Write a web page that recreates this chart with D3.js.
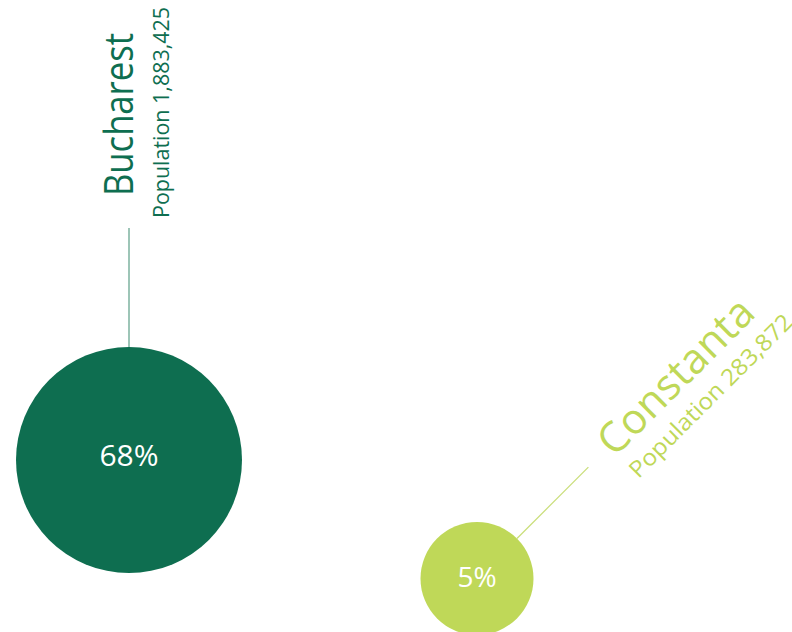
<!DOCTYPE html>
<html><head><meta charset="utf-8">
<script src="https://cdn.jsdelivr.net/npm/d3@7"></script>
<style>html,body{margin:0;padding:0;background:#fff;overflow:hidden}</style>
</head><body><svg id="c" width="792" height="632"></svg>
<script>
const cities = ["Bucharest", "Constanta"];
const populations = [1883425, 283872];
const shares = [68, 5];
const palette = ["#0e6e50", "#bfd858"];
const leaderPalette = ["#5c9e87", "#c9de78"];

const svg = d3.select("#c");
const font = "'Open Sans', 'Noto Sans', sans-serif";
const x = d3.scalePoint().domain(cities).range([129, 477]);
const y = d3.scaleLinear().domain([5, 68]).range([578.5, 460]);
const r = d3.scaleLinear().domain([5, 68]).range([56.5, 113]);
const color = d3.scaleOrdinal(cities, palette);
const leadColor = d3.scaleOrdinal(cities, leaderPalette);
const fmt = d3.format(",");

const layout = [
  {angle: -90, lead: 119, nameDu: 32, nameDv: 4, popDu: 10, popDv: 40, nameLen: 163, popLen: 211, nameSize: 40, popSize: 21, adj: "spacingAndGlyphs", pctSize: 30, pctDy: "0.2em"},
  {angle: -45, lead: 101, nameDu: 25, nameDv: 12, popDu: 27, popDv: 44, nameLen: 202, popLen: 220, nameSize: 42, popSize: 23, adj: "spacing", pctSize: 28, pctDy: "0.3em"}
];

const data = cities.map((c, i) => ({city: c, pop: populations[i], share: shares[i], L: layout[i]}));

data.forEach(d => {
  const cx = x(d.city), cy = y(d.share), rad = r(d.share), L = d.L;
  svg.append("circle").attr("cx", cx).attr("cy", cy).attr("r", rad).attr("fill", color(d.city));
  svg.append("text").attr("x", cx).attr("y", cy).attr("dy", L.pctDy)
    .attr("text-anchor", "middle").attr("fill", "#ffffff")
    .style("font-family", font).style("font-size", L.pctSize + "px")
    .text(d.share + "%");
  const g = svg.append("g").attr("transform", `translate(${cx},${cy}) rotate(${L.angle})`);
  g.append("line").attr("x1", rad).attr("y1", 0).attr("x2", rad + L.lead).attr("y2", 0)
    .attr("stroke", leadColor(d.city)).attr("stroke-width", 1.2);
  g.append("text").attr("x", rad + L.lead + L.nameDu).attr("y", L.nameDv)
    .attr("fill", color(d.city)).style("font-family", font).style("font-size", L.nameSize + "px")
    .attr("textLength", L.nameLen).attr("lengthAdjust", L.adj)
    .text(d.city);
  g.append("text").attr("x", rad + L.lead + L.popDu).attr("y", L.popDv)
    .attr("fill", color(d.city)).style("font-family", font).style("font-size", L.popSize + "px")
    .attr("textLength", L.popLen).attr("lengthAdjust", "spacingAndGlyphs")
    .text("Population " + fmt(d.pop));
});
</script>
</body></html>
